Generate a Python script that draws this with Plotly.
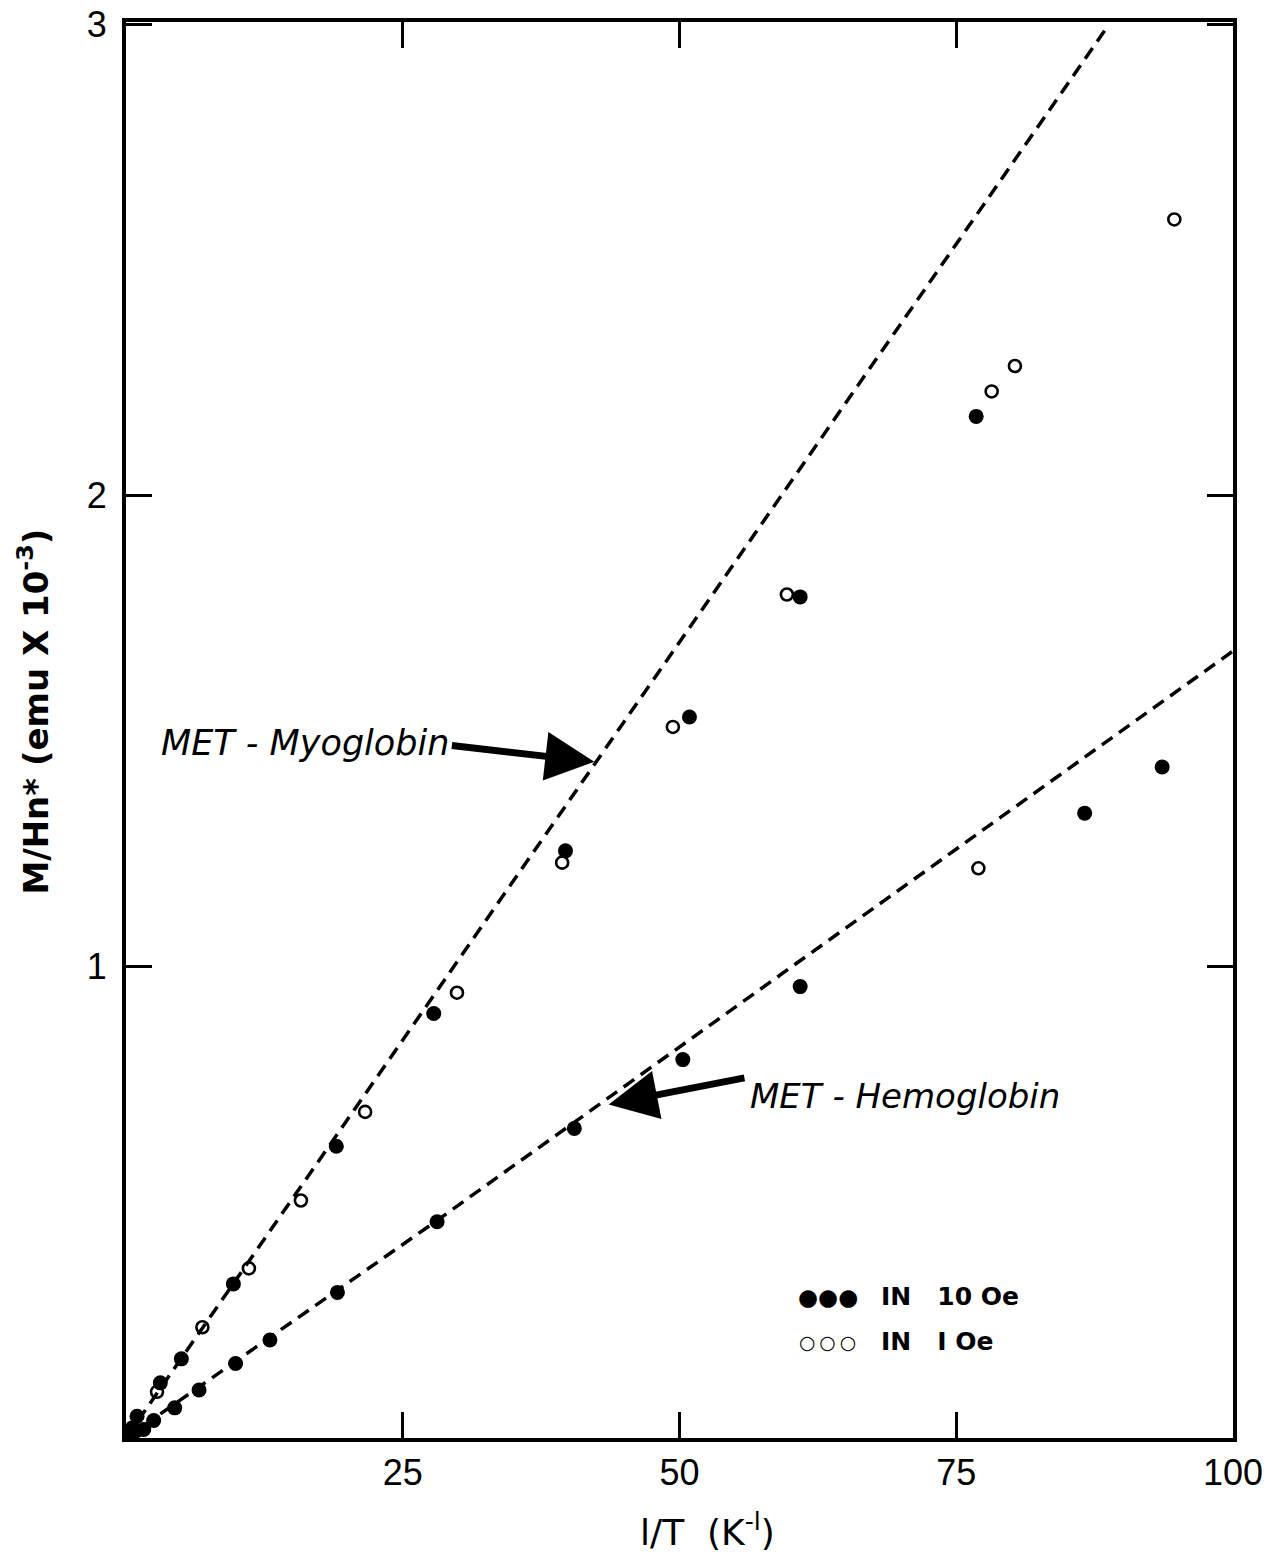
import plotly.graph_objects as go

# ---- data ----
# MET-Myoglobin, measured in 10 Oe (filled)
myo_10_x = [0.3, 0.6, 1.0, 3.1, 5.0, 9.7, 19.0, 27.8, 39.7, 50.9, 60.9, 76.8]
myo_10_y = [0.012, 0.022, 0.046, 0.117, 0.168, 0.327, 0.619, 0.901, 1.246, 1.530, 1.785, 2.168]
# MET-Myoglobin, measured in 1 Oe (open)
myo_1_x = [2.8, 6.9, 11.1, 15.8, 21.6, 29.9, 39.4, 49.4, 59.7, 78.2, 80.3, 94.7]
myo_1_y = [0.098, 0.235, 0.360, 0.504, 0.692, 0.945, 1.221, 1.509, 1.790, 2.221, 2.275, 2.586]
# MET-Hemoglobin, measured in 10 Oe (filled)
hem_10_x = [0.4, 0.9, 1.6, 2.5, 4.4, 6.6, 9.9, 13.0, 19.1, 28.1, 40.5, 50.3, 60.9, 86.6, 93.6]
hem_10_y = [0.008, 0.015, 0.018, 0.037, 0.064, 0.102, 0.158, 0.208, 0.309, 0.459, 0.657, 0.803, 0.958, 1.326, 1.424]
# MET-Hemoglobin, measured in 1 Oe (open)
hem_1_x = [77.0]
hem_1_y = [1.209]

# dashed guide lines
myo_line_x = [0, 88.8]
myo_line_y = [0, 3.0]
hem_line_x = [0, 28.0, 100]
hem_line_y = [0, 0.46, 1.67]

x_ticks = [25, 50, 75, 100]
y_ticks = [1, 2, 3]

FONT = "DejaVu Sans"
TICKFONT = "Liberation Sans"

fig = go.Figure()

dash_line = dict(color="black", width=3.5, dash="13px,8px")
fig.add_trace(go.Scatter(x=myo_line_x, y=myo_line_y, mode="lines", line=dash_line,
                         showlegend=False, hoverinfo="skip"))
fig.add_trace(go.Scatter(x=hem_line_x, y=hem_line_y, mode="lines", line=dash_line,
                         showlegend=False, hoverinfo="skip"))

filled = dict(symbol="circle", size=15, color="black", line=dict(width=0))
opened = dict(symbol="circle-open", size=12, color="black", line=dict(width=2.6, color="black"))

fig.add_trace(go.Scatter(x=myo_10_x, y=myo_10_y, mode="markers", marker=filled,
                         name="MET-Myoglobin, 10 Oe", showlegend=False))
fig.add_trace(go.Scatter(x=myo_1_x, y=myo_1_y, mode="markers", marker=opened,
                         name="MET-Myoglobin, 1 Oe", showlegend=False))
fig.add_trace(go.Scatter(x=hem_10_x, y=hem_10_y, mode="markers", marker=filled,
                         name="MET-Hemoglobin, 10 Oe", showlegend=False))
fig.add_trace(go.Scatter(x=hem_1_x, y=hem_1_y, mode="markers", marker=opened,
                         name="MET-Hemoglobin, 1 Oe", showlegend=False))

annotations = [
    # axis titles
    dict(x=-0.084, y=0.513, xref="paper", yref="paper", text="<b>M/Hn* (emu X 10<sup>-3</sup>)</b>",
         showarrow=False, textangle=-90, xanchor="center", yanchor="middle",
         font=dict(family=FONT, size=34, color="black")),
    dict(x=0.525, y=-0.065, xref="paper", yref="paper", text="l/T  (K<sup>-l</sup>)",
         showarrow=False, xanchor="center", yanchor="middle",
         font=dict(family=FONT, size=36, color="black")),
    # curve labels
    dict(x=3.0, y=1.475, xref="x", yref="y", text="<i>MET - Myoglobin</i>", showarrow=False,
         xanchor="left", yanchor="middle", font=dict(family=FONT, size=35, color="black")),
    dict(x=56.2, y=0.725, xref="x", yref="y", text="<i>MET - Hemoglobin</i>", showarrow=False,
         xanchor="left", yanchor="middle", font=dict(family=FONT, size=34, color="black")),
    # arrows
    dict(x=42.3, y=1.435, ax=29.3, ay=1.47, xref="x", yref="y", axref="x", ayref="y",
         text="", showarrow=True, arrowhead=2, arrowsize=1.4, arrowwidth=7, arrowcolor="black"),
    dict(x=43.6, y=0.708, ax=56.0, ay=0.765, xref="x", yref="y", axref="x", ayref="y",
         text="", showarrow=True, arrowhead=2, arrowsize=1.4, arrowwidth=7, arrowcolor="black"),
    # legend
    dict(x=60.5, y=0.300, xref="x", yref="y", text="●●●", showarrow=False,
         xanchor="left", yanchor="middle", font=dict(family=FONT, size=23, color="black")),
    dict(x=68.0, y=0.300, xref="x", yref="y", text="<b>IN   10 Oe</b>", showarrow=False,
         xanchor="left", yanchor="middle", font=dict(family=FONT, size=25, color="black")),
    dict(x=60.6, y=0.204, xref="x", yref="y", text="○\u2009○\u2009○", showarrow=False,
         xanchor="left", yanchor="middle", font=dict(family=FONT, size=19, color="black")),
    dict(x=68.0, y=0.204, xref="x", yref="y", text="<b>IN   I Oe</b>", showarrow=False,
         xanchor="left", yanchor="middle", font=dict(family=FONT, size=25, color="black")),
]

fig.update_layout(
    width=1271, height=1564,
    margin=dict(l=126, r=38, t=22, b=126),
    paper_bgcolor="white", plot_bgcolor="white",
    font=dict(family=FONT, color="black"),
    showlegend=False,
    annotations=annotations,
    xaxis=dict(
        range=[0, 100], tickmode="array", tickvals=x_ticks,
        ticktext=[str(v) for v in x_ticks],
        ticks="inside", ticklen=26, tickwidth=3, tickcolor="black",
        showline=True, linewidth=4, linecolor="black", mirror="ticks",
        showgrid=False, zeroline=False, automargin=False,
        tickfont=dict(family=TICKFONT, size=36, color="black"),
        ticklabelstandoff=0,
    ),
    yaxis=dict(
        range=[0, 3.005], tickmode="array", tickvals=y_ticks,
        ticktext=[str(v) for v in y_ticks],
        ticks="inside", ticklen=26, tickwidth=3, tickcolor="black",
        showline=True, linewidth=4, linecolor="black", mirror="ticks",
        showgrid=False, zeroline=False, automargin=False,
        tickfont=dict(family=TICKFONT, size=36, color="black"),
        ticklabelstandoff=8,
    ),
)

fig.write_html("out.html", config={"displayModeBar": False},
               post_script="document.body.style.margin='0px';document.body.style.overflow='hidden';")
